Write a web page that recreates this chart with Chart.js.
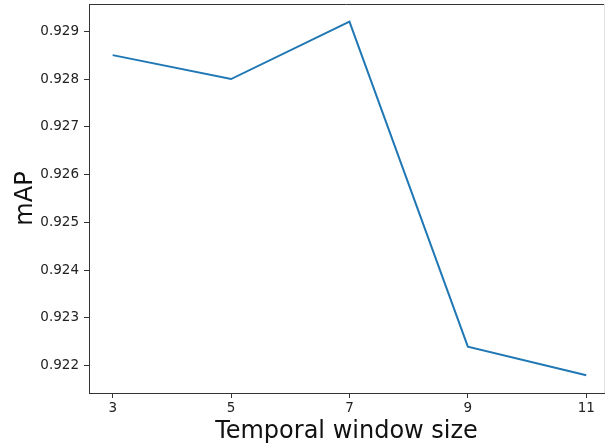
<!DOCTYPE html>
<html>
<head>
<meta charset="utf-8">
<script src="https://cdn.jsdelivr.net/npm/chart.js@4/dist/chart.umd.min.js"></script>
<style>
  html, body { margin: 0; padding: 0; background: #fff; overflow: hidden; }
  #wrap { width: 608px; height: 446px; }
</style>
</head>
<body>
<div id="wrap"><canvas id="c" width="608" height="446"></canvas></div>
<script>
// Data
const windowSizes = [3, 5, 7, 9, 11];
const mapValues = [0.9285, 0.9280, 0.9292, 0.9224, 0.9218];
const xTicks = [3, 5, 7, 9, 11];
const yTicks = [0.922, 0.923, 0.924, 0.925, 0.926, 0.927, 0.928, 0.929];
const xTitle = 'Temporal window size';
const yTitle = 'mAP';

const points = windowSizes.map((x, i) => ({ x: x, y: mapValues[i] }));

const framePlugin = {
  id: 'frame',
  afterDraw(chart) {
    const { ctx, chartArea: a } = chart;
    ctx.save();
    ctx.lineWidth = 1;
    ctx.strokeStyle = '#333';
    ctx.beginPath();
    ctx.moveTo(a.left, a.top + 0.5);
    ctx.lineTo(a.right, a.top + 0.5);
    ctx.stroke();
    ctx.strokeStyle = '#e4e4e4';
    ctx.beginPath();
    ctx.moveTo(a.right + 0.5, a.top);
    ctx.lineTo(a.right + 0.5, a.bottom);
    ctx.stroke();
    ctx.restore();
  }
};

const tickFont = { family: '"DejaVu Sans", sans-serif', size: 13.5 };
const titleFont = { family: '"DejaVu Sans", sans-serif', size: 24 };

new Chart(document.getElementById('c'), {
  type: 'line',
  data: {
    datasets: [{
      data: points,
      borderColor: '#1f77b4',
      borderWidth: 2,
      pointRadius: 0,
      tension: 0,
      fill: false
    }]
  },
  options: {
    responsive: false,
    animation: false,
    devicePixelRatio: 1,
    layout: { padding: { top: 4, right: 4, left: 0, bottom: 0 } },
    plugins: { legend: { display: false }, tooltip: { enabled: false } },
    scales: {
      x: {
        type: 'linear',
        min: 2.6,
        max: 11.3,
        afterBuildTicks(s) { s.ticks = xTicks.map(v => ({ value: v })); },
        afterFit(s) { s.height = 53; s.paddingLeft = 0; s.paddingRight = 0; },
        grid: { drawOnChartArea: false, drawTicks: true, tickLength: 5, tickColor: '#333', tickWidth: 1 },
        border: { display: true, color: '#333', width: 1 },
        ticks: { font: tickFont, color: '#222', padding: 2, maxRotation: 0, callback: v => String(v) },
        title: { display: true, text: xTitle, font: titleFont, color: '#111', padding: { top: 0, bottom: 0 } }
      },
      y: {
        type: 'linear',
        min: 0.92143,
        max: 0.92957,
        afterBuildTicks(s) { s.ticks = yTicks.map(v => ({ value: v })); },
        afterFit(s) { s.width = 89; s.paddingTop = 0; s.paddingBottom = 0; },
        grid: { drawOnChartArea: false, drawTicks: true, tickLength: 5, tickColor: '#333', tickWidth: 1 },
        border: { display: true, color: '#333', width: 1 },
        ticks: { font: tickFont, color: '#222', padding: 5, callback: v => Number(v).toFixed(3) },
        title: { display: true, text: yTitle, font: titleFont, color: '#111', padding: { top: 11, bottom: 0 } }
      }
    }
  },
  plugins: [framePlugin]
});
</script>
</body>
</html>
